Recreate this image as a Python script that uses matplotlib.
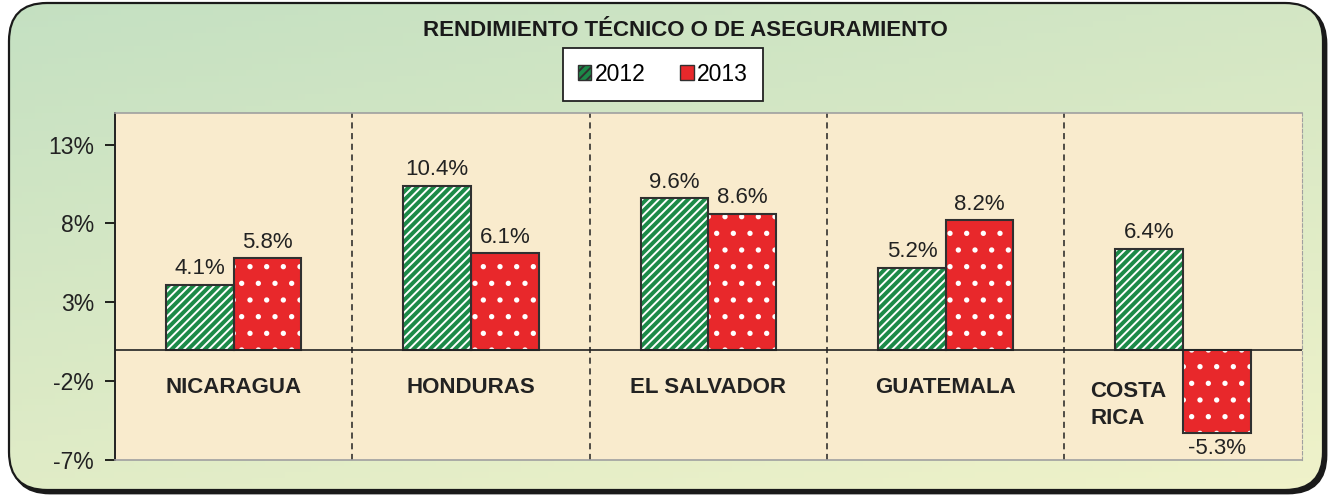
import numpy as np
import matplotlib.pyplot as plt
from matplotlib.patches import FancyBboxPatch, Patch

plt.rcParams['font.family'] = ['Liberation Sans', 'DejaVu Sans']
plt.rcParams['hatch.linewidth'] = 1.4

paises = ['NICARAGUA', 'HONDURAS', 'EL SALVADOR', 'GUATEMALA', 'COSTA\nRICA']
v2012 = [4.1, 10.4, 9.6, 5.2, 6.4]
v2013 = [5.8, 6.1, 8.6, 8.2, -5.3]
yticks = [-7, -2, 3, 8, 13]

verde = '#1c8a48'
rojo = '#e8282b'
borde = '#303030'

fig = plt.figure(figsize=(13.31, 4.98), dpi=100)

# fondo degradado con esquinas redondeadas
bg = fig.add_axes([0, 0, 1, 1], zorder=-10)
bg.set_xlim(0, 1331)
bg.set_ylim(498, 0)
bg.axis('off')
gx, gy = np.meshgrid(np.linspace(0, 1, 200), np.linspace(0, 1, 80))
t = np.clip(0.35 * gx + 0.65 * gy, 0, 1)
c0 = np.array([0.77, 0.88, 0.76])
c1 = np.array([0.94, 0.95, 0.79])
img = c0 + (c1 - c0) * t[..., None]
sombra = FancyBboxPatch((12, 6), 1314, 487, boxstyle='round,pad=0,rounding_size=38',
                        facecolor='#1a1a1a', edgecolor='#1a1a1a', linewidth=2)
bg.add_patch(sombra)
marco = FancyBboxPatch((9, 3), 1314, 487, boxstyle='round,pad=0,rounding_size=38',
                       facecolor='none', edgecolor='#1a1a1a', linewidth=1.6, zorder=3)
bg.add_patch(marco)
im = bg.imshow(img, extent=[9, 1323, 490, 3], aspect='auto', zorder=2)
im.set_clip_path(marco)

ax = fig.add_axes([0.0864, 0.0763, 0.8916, 0.6967])
ax.set_facecolor('#f9ebcd')
x = np.arange(len(paises))
w = 0.285

ax.bar(x - w / 2, v2012, w, color=verde, edgecolor='white', hatch='////', linewidth=0, zorder=2)
ax.bar(x - w / 2, v2012, w, color='none', edgecolor=borde, linewidth=1.5, zorder=3)
ax.bar(x + w / 2, v2013, w, color=rojo, edgecolor='white', hatch='.', linewidth=0, zorder=2)
ax.bar(x + w / 2, v2013, w, color='none', edgecolor=borde, linewidth=1.5, zorder=3)

for xi, v in zip(x, v2012):
    ax.text(xi - w / 2, v + 0.35, f'{v:.1f}%', ha='center', va='bottom', fontsize=16, color='#222222')
for xi, v in zip(x, v2013):
    if v >= 0:
        ax.text(xi + w / 2, v + 0.35, f'{v:.1f}%', ha='center', va='bottom', fontsize=16, color='#222222')
    else:
        ax.text(xi + w / 2, v - 0.3, f'{v:.1f}%', ha='center', va='top', fontsize=16, color='#222222')

for i, p in enumerate(paises):
    if '\n' in p:
        ax.text(i - 0.39, -3.5, p, ha='left', va='center', fontsize=16, fontweight='bold',
                color='#222222', linespacing=1.4)
    else:
        ax.text(i, -2.4, p, ha='center', va='center', fontsize=16, fontweight='bold', color='#222222')

for d in np.arange(0.5, len(paises) - 1, 1):
    ax.axvline(d, color='#222222', linestyle=(0, (4, 3)), linewidth=1.1, zorder=1)
ax.axhline(0, color='#222222', linewidth=1.2, zorder=4)

ax.set_xlim(-0.5, len(paises) - 0.5)
ax.set_ylim(-7, 15)
ax.set_yticks(yticks)
ax.set_yticklabels([f'{v}%' for v in yticks], fontsize=16.5, color='#222222')
ax.set_xticks([])
ax.tick_params(axis='y', length=7, width=1.2, pad=8)
ax.spines['left'].set_linewidth(1.4)
ax.spines['left'].set_color('#222222')
for s in ['top', 'bottom']:
    ax.spines[s].set_color('#a0a0a0')
    ax.spines[s].set_linewidth(1.2)
ax.spines['right'].set_color('#a0a0a0')
ax.spines['right'].set_linestyle((0, (3, 2)))

fig.text(0.515, 0.938, 'RENDIMIENTO TÉCNICO O DE ASEGURAMIENTO', ha='center', va='center',
         fontsize=16, fontweight='bold', color='#1a1a1a')

handles = [Patch(facecolor=verde, edgecolor=borde, hatch='////', label='2012'),
           Patch(facecolor=rojo, edgecolor=borde, label='2013')]
leg = fig.legend(handles=handles, loc='center', bbox_to_anchor=(0.498, 0.851), ncol=2,
                 frameon=True, fancybox=False, fontsize=16.5, handlelength=0.6, handleheight=0.6,
                 handletextpad=0.15, columnspacing=1.5, borderpad=0.65, borderaxespad=0)
leg.get_frame().set_edgecolor('#222222')
leg.get_frame().set_linewidth(1.3)
leg.get_frame().set_alpha(1)

fig.savefig('out.png', dpi=100)
